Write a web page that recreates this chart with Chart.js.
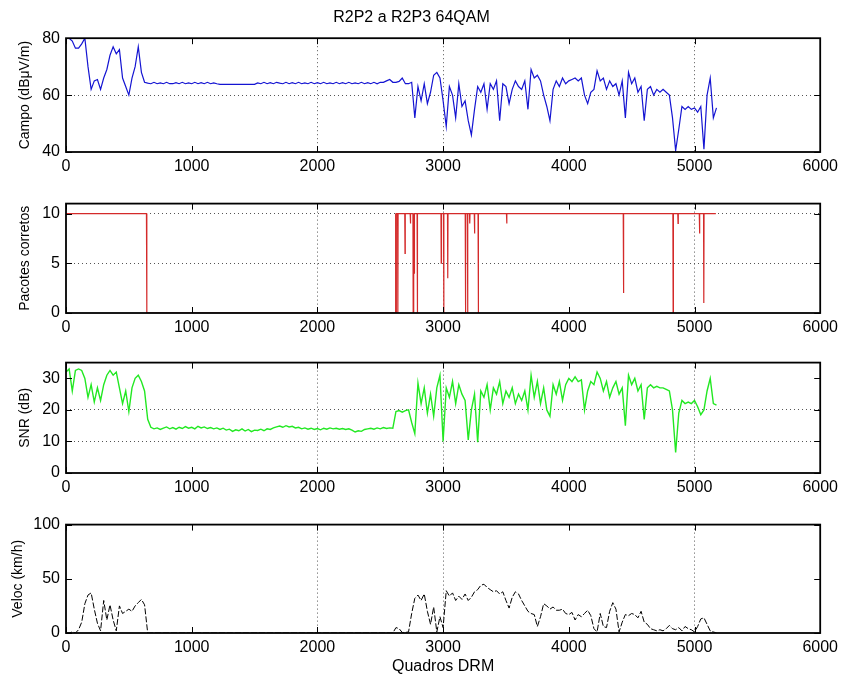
<!DOCTYPE html>
<html>
<head>
<meta charset="utf-8">
<script src="https://cdn.jsdelivr.net/npm/chart.js@4.4.1/dist/chart.umd.min.js"></script>
<style>
  body { margin: 0; background: #fff; }
  .figure { position: relative; width: 843px; height: 684px; overflow: hidden; }
  .figure canvas { position: absolute; left: 0; }
</style>
</head>
<body>
<div class="figure">
  <canvas id="campoChart" width="843" height="176" style="top:0px"></canvas>
  <canvas id="pacotesChart" width="843" height="149" style="top:188px"></canvas>
  <canvas id="snrChart" width="843" height="150" style="top:347px"></canvas>
  <canvas id="velocChart" width="843" height="174" style="top:509px"></canvas>
</div>
<script>
// frame index of each sample (one sample read every 25 DRM frames)
const FRAME_STEP = 25;

const xTicks = [0, 1000, 2000, 3000, 4000, 5000, 6000];

// Campo (dBuV/m)
const campo = [
  80, 80, 79, 76.5, 76.5, 78, 80, 70, 62, 65,
  65.5, 62, 66, 69, 74, 77, 74.5, 76, 66, 63,
  60, 66, 70, 77, 68, 64.5,
  64.2, 64, 64.5, 64, 64.3, 64, 64.5, 64, 64, 64.4,
  64, 64.5, 64, 64.3, 64, 64.5, 64, 64.4, 64, 64.5,
  64, 64.3, 64, 63.8, 63.8, 63.8, 63.8, 63.8, 63.8, 63.8,
  63.8, 63.8, 63.8, 63.8, 63.8, 64.3, 64, 64.5, 64, 64.4,
  64, 64.5, 64.2, 64, 64.5, 64, 64.4, 64, 64.5, 64,
  64.3, 64, 64.5, 64, 64.4, 64, 64.5, 64, 64.3, 64,
  64.5, 64, 64.4, 64, 64.5, 64, 64.3, 64, 64.5, 64,
  64.4, 64, 64.5, 64,
  64.5, 64.5, 65, 65.5, 64.5, 64.5, 64.8, 66, 64, 64,
  64.5, 52, 63, 58, 64, 57, 61, 67, 68, 66,
  58, 49, 63, 60, 52, 64, 56, 58, 51, 46,
  55, 63, 61, 64, 55, 64, 62, 65, 51, 64,
  63, 57, 62, 65, 63, 62, 65, 55, 69, 66,
  67, 65, 60, 56, 51, 62, 65, 63, 66, 64,
  65, 65.5, 66, 65, 66, 60, 57, 61, 62, 68.5,
  65, 66, 62, 65, 63, 64, 60, 65, 52, 68,
  64, 66, 61, 63, 51, 62, 63, 60, 62, 61,
  62, 61, 60, 52, 40.5, 48, 56, 55, 56, 55,
  55.5, 54, 56, 41, 60, 66, 52, 55.5
];
const campoTicks = [40, 60, 80];

// Pacotes corretos (step curve, read at each drop)
const pktFrames = [
  0, 640, 643, 2618, 2621,
  2624, 2626, 2628, 2638, 2640, 2642,
  2695, 2697, 2699, 2738, 2740, 2742,
  2760, 2762, 2764, 2768, 2770, 2772,
  2793, 2795, 2797, 2983, 2985, 2987,
  3003, 3005, 3007, 3035, 3037, 3039,
  3176, 3178, 3180, 3193, 3195, 3197,
  3210, 3212, 3214, 3248, 3250, 3252,
  3278, 3280, 3282, 3504, 3506, 3508,
  4433, 4435, 4437, 4828, 4830, 4832,
  4867, 4869, 4871, 5038, 5040, 5042,
  5072, 5074, 5076, 5170
];
const pktValues = [
  10, 10, 0, 0, 10,
  10, 0, 10, 10, 0, 10,
  10, 6, 10, 10, 9, 10,
  10, 0, 10, 10, 4, 10,
  10, 0, 10, 10, 5, 10,
  10, 0, 10, 10, 3.5, 10,
  10, 0, 10, 10, 0, 10,
  10, 9, 10, 10, 8, 10,
  10, 0, 10, 10, 9, 10,
  10, 2, 10, 10, 0, 10,
  10, 9, 10, 10, 8, 10,
  10, 1, 10, 10
];
const pktTicks = [0, 5, 10];

// SNR (dB)
const snr = [
  32, 33, 26, 32.5, 33, 32.5, 30, 24, 28, 22.5,
  27, 23, 28, 31, 32.5, 31, 32, 27, 22, 26,
  19.5, 27, 30, 31, 29, 26, 17,
  14.5, 14, 14.3, 13.8, 14.2, 14.6, 14, 14.4, 13.9, 14.5,
  14.1, 14.7, 14.2, 14.5, 14, 14.8, 14.3, 14.6, 14.1, 14.4,
  14, 14.3, 13.8, 14.2, 13.6, 13.9, 13.2, 13.7, 13.4, 14,
  13.3, 13.8, 13.1, 13.6, 13.5, 13.9, 13.4, 14, 13.8, 14.3,
  14.6, 14.9, 14.5, 15, 14.6, 14.8, 14.3, 14.5, 14, 14.3,
  13.9, 14.2, 13.8, 14.1, 13.7, 14.2, 13.9, 14.3, 14, 14.2,
  13.9, 14.1, 13.8, 14, 13.6, 13, 13.4, 13.2, 13.8, 14,
  14.2, 13.9, 14.3, 14, 14.4, 14.1, 14.3,
  14.2, 19.5, 19.8, 19.3, 19.8, 20, 16, 12.5, 28.5, 22,
  27, 19, 25, 18, 27, 31, 10, 27, 24, 29,
  22, 28, 25, 23, 10.5, 20, 25, 9.8, 26, 24,
  28, 20, 27, 25, 29, 22, 26, 24, 27, 22,
  25, 23, 26, 20, 31, 24, 29, 22, 27, 20,
  18, 28, 25, 29, 23, 28, 30, 29, 30.5, 29,
  29.5, 20, 26, 29, 28, 32, 30, 26, 29, 24,
  27, 29, 25, 27, 15, 31, 28, 30, 26, 28,
  17, 27, 28, 27, 27.5, 27, 27, 26.5, 26, 20,
  6.5, 19, 23, 22, 22.5, 22, 23, 21, 18.5, 20,
  26, 30, 22, 21.5
];
const snrTicks = [0, 10, 20, 30];

// Veloc (km/h)
const veloc = [
  0, 0, 1, 0, 3, 10, 27, 35, 37, 22,
  9, 2, 30, 12, 26, 12, 2, 25, 18, 20,
  22, 20, 25, 28, 31, 26,
  0, 0, 0, 0, 0, 0, 0, 0, 0, 0,
  0, 0, 0, 0, 0, 0, 0, 0, 0, 0,
  0, 0, 0, 0, 0, 0, 0, 0, 0, 0,
  0, 0, 0, 0, 0, 0, 0, 0, 0, 0,
  0, 0, 0, 0, 0, 0, 0, 0, 0, 0,
  0, 0, 0, 0, 0, 0, 0, 0, 0, 0,
  0, 0, 0, 0, 0, 0, 0, 0, 0, 0,
  0, 0, 0, 0, 0, 0, 0, 0,
  0, 5, 4, 0.5, 0.5, 1, 18, 32, 35, 30,
  36, 20, 8, 24, 1, 15, 5, 39, 34, 37,
  30, 34, 31, 36, 30, 33, 38, 40, 44, 45,
  42, 40, 38, 39, 36, 38, 30, 23, 33, 38,
  36, 30, 25, 20, 18, 17, 6, 15, 27, 25,
  22, 24, 21, 21, 22, 18, 17, 19, 12, 17,
  15, 18, 21, 16, 4, 1, 18, 6, 5, 20,
  28, 22, 1, 10, 17, 16, 18, 17, 14, 20,
  10, 8, 4, 3, 2, 3, 2, 4, 7, 4,
  3, 5, 2, 6, 4, 3, 1, 6, 13, 14,
  8, 2, 1, 0
];
const velocTicks = [0, 50, 100];

const FONT = "'Liberation Sans', Arial, Helvetica, sans-serif";

// MATLAB-like box with inward tick marks on all four sides
const matlabBox = {
  id: 'matlabBox',
  afterDatasetsDraw(chart) {
    const { ctx, chartArea: a, scales: { x, y } } = chart;
    ctx.save();
    ctx.strokeStyle = '#000';
    ctx.lineWidth = 1;
    ctx.setLineDash([]);
    ctx.beginPath();
    x.ticks.forEach(t => {
      const px = Math.round(x.getPixelForValue(t.value)) + 0.5;
      ctx.moveTo(px, a.bottom); ctx.lineTo(px, a.bottom - 6);
      ctx.moveTo(px, a.top); ctx.lineTo(px, a.top + 6);
    });
    y.ticks.forEach(t => {
      const py = Math.round(y.getPixelForValue(t.value)) + 0.5;
      ctx.moveTo(a.left, py); ctx.lineTo(a.left + 6, py);
      ctx.moveTo(a.right, py); ctx.lineTo(a.right - 6, py);
    });
    ctx.stroke();
    // box drawn on the exact chart-area edges so data lying on the axis is hidden
    ctx.lineWidth = 1.8;
    ctx.strokeRect(a.left, a.top, a.right - a.left, a.bottom - a.top);
    ctx.restore();
  }
};

function pairs(xs, ys) {
  return ys.map((v, i) => ({ x: xs[i], y: v }));
}

function makePanel(id, opts) {
  const ctx = document.getElementById(id).getContext('2d');
  return new Chart(ctx, {
    type: 'line',
    data: {
      datasets: [{
        data: opts.data,
        borderColor: opts.color,
        borderWidth: opts.width || 1.2,
        borderDash: opts.dash || [],
        pointRadius: 0,
        tension: 0,
        fill: false,
        clip: 0
      }]
    },
    options: {
      responsive: false,
      animation: false,
      events: [],
      layout: { padding: { top: opts.padTop, right: 20, left: 0, bottom: 0 } },
      plugins: {
        legend: { display: false },
        tooltip: { enabled: false },
        title: opts.title ? {
          display: true,
          text: opts.title,
          color: '#000',
          font: { family: FONT, size: 16, weight: 'normal' },
          padding: { top: 8, bottom: opts.padTopTitle }
        } : { display: false }
      },
      scales: {
        x: {
          type: 'linear',
          min: 0,
          max: 6000,
          afterBuildTicks: s => { s.ticks = xTicks.map(v => ({ value: v })); },
          afterFit: s => { s.height = opts.xHeight; },
          ticks: {
            color: '#000', font: { family: FONT, size: 16 }, padding: 5, maxRotation: 0,
            callback: v => String(v)
          },
          grid: {
            drawTicks: false,
            color: c => [2000, 3000, 5000].includes(c.tick && c.tick.value) ? '#555' : 'rgba(0,0,0,0)'
          },
          border: { display: false, dash: [1, 3] },
          title: opts.xTitle ? {
            display: true,
            text: opts.xTitle,
            color: '#000',
            font: { family: FONT, size: 16 },
            padding: { top: 0, bottom: 7 }
          } : { display: false }
        },
        y: {
          min: opts.min,
          max: opts.max,
          afterBuildTicks: s => { s.ticks = opts.ticks.map(v => ({ value: v })); },
          afterFit: s => { s.width = 66; },
          ticks: { color: '#000', font: { family: FONT, size: 16 }, padding: 6 },
          grid: {
            drawTicks: false,
            color: c => (opts.gridY || []).includes(c.tick && c.tick.value) ? '#555' : 'rgba(0,0,0,0)'
          },
          border: { display: false, dash: [1, 3] },
          title: {
            display: true,
            text: opts.yTitle,
            color: '#000',
            font: { family: FONT, size: 14 },
            padding: { top: opts.yTitlePad, bottom: 0 }
          }
        }
      }
    },
    plugins: [matlabBox]
  });
}

const frames = campo.map((_, i) => i * FRAME_STEP);

makePanel('campoChart', {
  data: pairs(frames, campo), color: '#1414d2',
  min: 40, max: 80, ticks: campoTicks, gridY: [60],
  padTop: 0, title: 'R2P2 a R2P3 64QAM', padTopTitle: 11,
  xHeight: 24, yTitle: 'Campo (dB\u03bcV/m)', yTitlePad: 17
});

makePanel('pacotesChart', {
  data: pairs(pktFrames, pktValues), color: '#d42a2a',
  min: 0, max: 11, ticks: pktTicks, gridY: [5, 10],
  padTop: 10, xHeight: 24, yTitle: 'Pacotes corretos', yTitlePad: 17
});

makePanel('snrChart', {
  data: pairs(frames, snr), color: '#22e822', width: 1.4,
  min: 0, max: 35, ticks: snrTicks, gridY: [10, 20],
  padTop: 10, xHeight: 24, yTitle: 'SNR (dB)', yTitlePad: 17
});

makePanel('velocChart', {
  data: pairs(frames, veloc), color: '#000', width: 1, dash: [6, 2],
  min: 0, max: 100, ticks: velocTicks, gridY: [],
  padTop: 10, xHeight: 50, yTitle: 'Veloc (km/h)', yTitlePad: 10,
  xTitle: 'Quadros DRM'
});
</script>
</body>
</html>
